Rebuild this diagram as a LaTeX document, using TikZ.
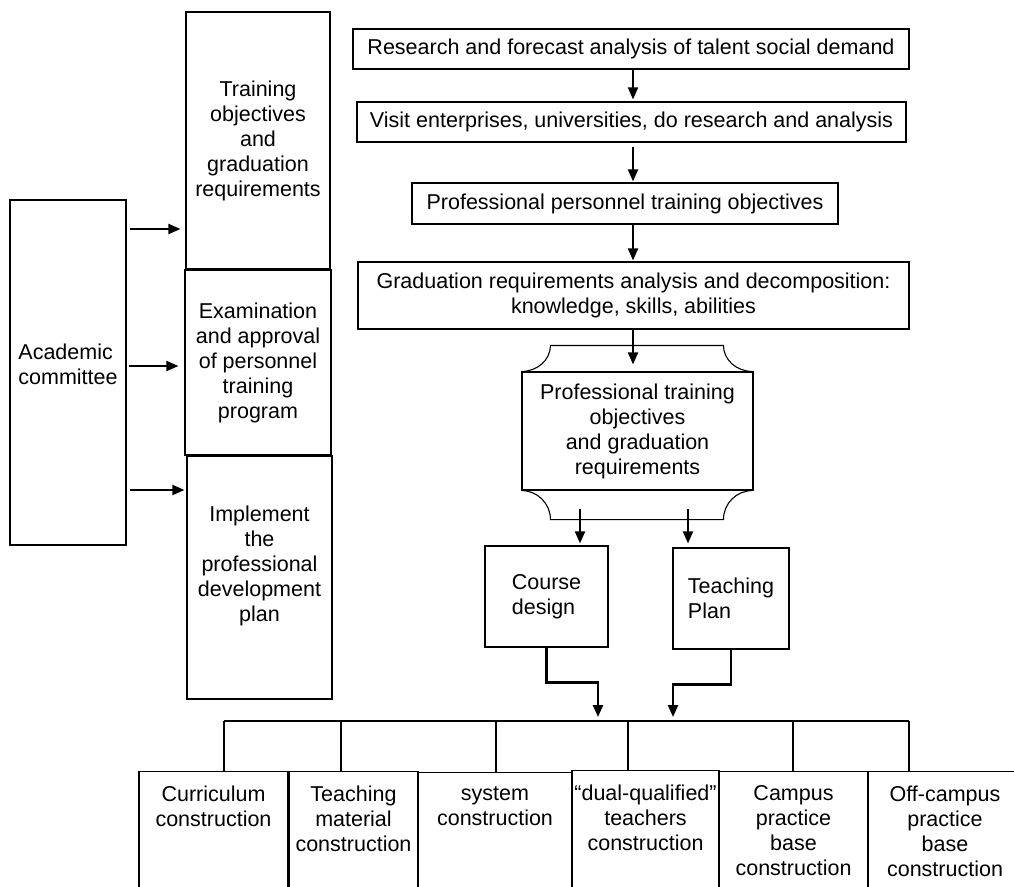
\documentclass[tikz,border=0pt]{standalone}
\usepackage{fontspec}
\setmainfont{Liberation Sans}
\usetikzlibrary{arrows.meta}
\tikzset{>={Triangle[length=12pt,width=10pt]}}
\tikzset{box/.style={draw, line width=1.1pt, align=center, inner sep=2pt}}
\tikzset{cell/.style={box, anchor=north, inner ysep=14pt, text depth=130pt}}
\tikzset{flow/.style={->, line width=1.9pt}}

\begin{document}
\begin{tikzpicture}[x=1pt, y=-1pt, font=\fontsize{21.5}{25}\selectfont]
\useasboundingbox (0,0) rectangle (1014,886);
\clip (0,0) rectangle (1014,886);
\node[box, minimum width=116, minimum height=345, label={[align=left, yshift=8]center:{Academic\\committee}}] (acad) at (68,372.5) {};
\node[box, minimum width=144, minimum height=257] (goal) at (258,140.5) {Training\\objectives\\and\\graduation\\requirements};
\node[box, minimum width=146, minimum height=185] (exam) at (258,362.5) {Examination\\and approval\\of personnel\\training\\program};
\node[box, minimum width=145, minimum height=243, label={[align=center, yshift=12]center:{Implement\\the\\professional\\development\\plan}}] (impl) at (259.5,577.5) {};
\draw[flow, shorten <=3pt, shorten >=5pt] (acad.east |- 0,229) -- (goal.west |- 0,229);
\draw[flow, shorten <=2pt, shorten >=6pt] (acad.east |- 0,366) -- (exam.west |- 0,366);
\draw[flow, shorten <=3pt, shorten >=2pt] (acad.east |- 0,490) -- (impl.west |- 0,490);

\coordinate (axis) at (633,0);
\node[box, minimum width=556, minimum height=40] (demand) at (631,49) {Research and forecast analysis of talent social demand};
\node[box, minimum width=549, minimum height=40] (visit) at (631.5,122) {Visit enterprises, universities, do research and analysis};
\node[box, minimum width=426, minimum height=41] (aims) at (625,203.5) {Professional personnel training objectives};
\node[box, minimum width=551, minimum height=67] (decomp) at (633.5,295.5) {Graduation requirements analysis and decomposition:\\knowledge, skills, abilities};
\node[box, minimum width=231, minimum height=118] (prof) at (637.5,431) {Professional training\\objectives\\ and graduation\\requirements};
\draw[line width=1.1pt] (prof.north west) arc[start angle=90, end angle=0, x radius=29, y radius=26] -- ++(173,0) arc[start angle=180, end angle=90, x radius=29, y radius=26];
\draw[line width=1.1pt] (prof.south west) arc[start angle=270, end angle=360, x radius=29, y radius=29] -- ++(173,0) arc[start angle=180, end angle=270, x radius=29, y radius=29];
\draw[flow, shorten >=2pt] (demand.south -| axis) -- (visit.north -| axis);
\draw[flow, shorten <=4pt, shorten >=1pt] (visit.south -| axis) -- (aims.north -| axis);
\draw[flow, shorten >=1pt] (aims.south -| axis) -- (decomp.north -| axis);
\draw[flow, shorten >=7pt] (decomp.south -| axis) -- (prof.north -| axis);

\coordinate (splitL) at (580,509);
\coordinate (splitR) at (688,509);
\node[box, minimum width=123, minimum height=101, align=left] (course) at (546.5,596.5) {Course\\design};
\node[box, minimum width=116, minimum height=101, align=left] (tplan) at (731,598.5) {Teaching\\Plan};
\draw[flow, shorten >=2pt] (splitL) -- (course.north -| splitL);
\draw[flow, shorten >=4pt] (splitR) -- (tplan.north -| splitR);

\coordinate (busL) at (224,721);
\coordinate (busR) at (909,721);
\draw[flow, line width=2.4pt, shorten >=4pt] (course.south) -- ++(0,35) -| (busL -| 598,0);
\draw[flow, line width=2.4pt, shorten >=4pt] (tplan.south) -- ++(0,35) -| (busL -| 673,0);
\draw[line width=1.5pt] (busL) -- (busR);

\node[cell, minimum width=149] (curr) at (213.5,771) {Curriculum\\construction};
\node[cell, minimum width=129] (tmat) at (353.5,771) {Teaching\\material\\construction};
\node[cell, minimum width=154] (syst) at (495,772) {system\\construction};
\node[cell, minimum width=147] (dual) at (645.5,770) {“dual-qualified”\\teachers\\construction};
\node[cell, minimum width=149] (camp) at (793.5,771) {Campus\\practice\\base\\construction};
\node[cell, minimum width=154] (offc) at (945,771) {Off-campus\\practice\\base\\construction};
\foreach \x/\c in {224/curr,341/tmat,496/syst,628/dual,793/camp,909/offc}
  \draw[line width=1.3pt] (busL -| \x,0) -- (\c.north -| \x,0);
\end{tikzpicture}
\end{document}
